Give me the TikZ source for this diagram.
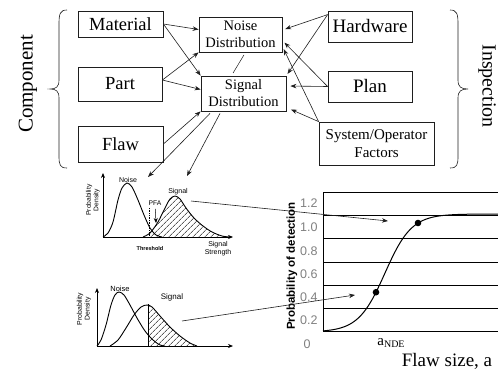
\documentclass[tikz,border=0pt]{standalone}
\usepackage{fontspec}
\setmainfont{Liberation Serif}
\setsansfont{Liberation Sans}
\usetikzlibrary{arrows.meta, positioning, patterns.meta, calc}
\definecolor{ink}{HTML}{1E1E1E}
\definecolor{tickgray}{HTML}{808080}

\tikzset{
  box/.style={draw=ink, line width=0.8pt, align=center, inner sep=0pt},
  link/.style={-{Stealth[length=6pt,width=4.5pt]}, draw=ink, line width=0.6pt},
  axis/.style={-{Stealth[length=5pt,width=4pt]}, line width=0.7pt},
  curve/.style={line width=0.9pt},
  hatch/.style={pattern={Lines[angle=45, distance=4pt, line width=0.5pt]}},
}
\newcommand{\fs}[2]{\fontsize{#1}{#2}\selectfont}

\begin{document}
\begin{tikzpicture}[x=1pt, y=-1pt]
    \useasboundingbox (0,0) rectangle (498,369);

    % component side
    \node[box, minimum width=85pt, minimum height=26pt, font=\fs{18.5}{20}] (material) at (120.5,24) {Material};
    \node[box, minimum width=84pt, minimum height=34pt, font=\fs{18.5}{20}] (part) at (120,84) {Part};
    \node[box, minimum width=85pt, minimum height=36pt, font=\fs{18.5}{20}] (flaw) at (120.5,144) {Flaw};
    \node[rotate=90, font=\fs{21}{22}] (component) at (28,84) {Component};
    \draw[ink, line width=0.6pt] (67,10) .. controls (60,10) and (59,14) .. (59,24) -- (59,80)
        .. controls (59,87) and (56,89) .. (50,89) .. controls (56,89) and (59,91) .. (59,98)
        -- (59,156) .. controls (59,165) and (60,168) .. (67,168);

    % distributions
    \node[box, minimum width=83pt, minimum height=35pt, font=\fs{14.5}{17}] (noise) at (240.5,34.5) {Noise\\Distribution};
    \node[box, minimum width=85pt, minimum height=35pt, font=\fs{14.5}{17}] (signal) at (243.5,93.5) {Signal\\Distribution};

    % inspection side
    \node[box, minimum width=84pt, minimum height=31pt, font=\fs{19}{20}] (hardware) at (370,26.5) {Hardware};
    \node[box, minimum width=84pt, minimum height=31pt, font=\fs{19}{20}] (plan) at (370,86.5) {Plan};
    \node[box, minimum width=115pt, minimum height=43pt, font=\fs{15}{18}] (system) at (376.5,143.5) {System/Operator\\Factors};
    \node[rotate=-90, font=\fs{20}{22}] (inspection) at (487,86) {Inspection};
    \draw[ink, line width=0.6pt] (450,10) .. controls (457,10) and (458,14) .. (458,24) -- (458,80)
        .. controls (458,87) and (461,89) .. (468,89) .. controls (461,89) and (458,91) .. (458,98)
        -- (458,156) .. controls (458,165) and (457,168) .. (450,168);

    % influences
    \draw[link] (material.east) -- ([yshift=5pt]noise.west);
    \draw[link] (material.east) -- (signal.north west);
    \draw[link] ([yshift=4pt]part.east) -- (noise.south west);
    \draw[link] ([yshift=4pt]part.east) -- ([yshift=4pt]signal.west);
    \draw[link] (flaw.east) -- (signal.south west);
    \draw[ink, line width=0.5pt, shorten <=3pt, shorten >=3pt] ([xshift=5pt]noise.south) -- ([xshift=-12pt]signal.north);
    \draw[link, shorten >=3pt] ([yshift=-4pt]hardware.north west) -- ([yshift=4.5pt]noise.east);
    \draw[link, shorten >=2pt] ([yshift=-4pt]hardware.north west) -- (signal.north east);
    \draw[link, shorten >=3pt] (plan.west) -- ([yshift=-6pt]noise.east);
    \draw[link, shorten >=4pt] (plan.west) -- ([yshift=7.5pt]signal.east);
    \draw[link, shorten >=3pt] (system.north west) -- ([yshift=-12pt]noise.east);
    \draw[link, shorten >=5pt] (system.north west) -- ([yshift=-14pt]signal.east);

    % upper pdf sketch
    \coordinate (topnoise) at (148,177);
    \coordinate (topsignal) at (187,176);
    \draw[link] ([xshift=-33.5pt,yshift=-2pt]signal.south) -- (topnoise);
    \draw[link] ([xshift=-23.5pt,yshift=-2pt]signal.south) -- (topsignal);
    \begin{scope}
      \clip (149,180) rectangle (235,237);
      \fill[hatch] plot[smooth] coordinates {(143,237) (150,233) (158,222) (165,208) (170,199) (175,196) (180,199) (186,208) (194,218) (203,226) (212,232) (222,236) (230,237)} -- cycle;
    \end{scope}
    \draw[curve] plot[smooth] coordinates {(103,237) (108,233) (113,222) (118,200) (122,188) (127,183) (132,187) (138,200) (144,215) (150,228) (156,235) (162,237)};
    \draw[curve] plot[smooth] coordinates {(143,237) (150,233) (158,222) (165,208) (170,199) (175,196) (180,199) (186,208) (194,218) (203,226) (212,232) (222,236) (230,237)};
    \draw[densely dotted, line width=0.7pt] (149,208) -- (149,237);
    \draw[axis] (103,237) -- (103,173);
    \draw[axis] (103,237) -- (233,237);
    \node[font=\sffamily\fs{7}{7}] (tnoise) at (128,180) {Noise};
    \node[font=\sffamily\fs{7}{7}] (tsignal) at (178,192) {Signal};
    \node[font=\sffamily\fs{6.7}{7}] (pfa) at (155,203) {PFA};
    \coordinate (pfatip) at (156,223);
    \draw[axis, line width=0.5pt] (pfa) -- (pfatip);
    \node[font=\sffamily\bfseries\fs{5.5}{6}] (threshold) at (150,249) {Threshold};
    \node[font=\sffamily\fs{7}{8}, align=center] (strength) at (218,249) {Signal\\Strength};
    \node[rotate=90, font=\sffamily\fs{6.7}{7.5}, align=center] (tdensity) at (93,200) {Probability\\Density};

    % lower pdf sketch
    \begin{scope}
      \clip (148,280) rectangle (235,346);
      \fill[hatch] plot[smooth] coordinates {(110,346) (118,340) (126,328) (134,315) (141,307) (147,305) (152,307) (160,316) (170,327) (180,336) (190,343) (197,346)} -- cycle;
    \end{scope}
    \draw[curve] plot[smooth] coordinates {(97,346) (101,340) (106,325) (111,305) (115,295) (119,292) (124,295) (130,305) (137,318) (145,331) (153,340) (160,345) (165,346)};
    \draw[curve] plot[smooth] coordinates {(110,346) (118,340) (126,328) (134,315) (141,307) (147,305) (152,307) (160,316) (170,327) (180,336) (190,343) (197,346)};
    \draw[line width=0.5pt] (148,304) -- (148,346);
    \draw[axis] (97,346) -- (97,288);
    \draw[axis] (97,346) -- (233,346);
    \node[font=\sffamily\fs{7.5}{8}] (bnoise) at (120,289) {Noise};
    \node[font=\sffamily\fs{8}{8}] (bsignal) at (172,297) {Signal};
    \node[rotate=90, font=\sffamily\fs{6.9}{7.8}, align=center] (bdensity) at (84,309) {Probability\\Density};

    % POD curve
    \draw[line width=0.8pt] (323,192) -- (498,192);
    \draw[line width=0.8pt] (323,192) -- (323,331);
    \foreach \gy in {215,238,262,285,308,331}
      \draw[line width=0.8pt] (323,\gy) -- (498,\gy);
    \foreach \lab/\ly in {1.2/203, 1.0/227, 0.8/251, 0.6/274, 0.4/297, 0.2/320}
      \node[anchor=east, text=tickgray, font=\sffamily\fs{12.5}{13}] at (321,\ly) {\lab};
    \node[text=tickgray, font=\sffamily\fs{12.5}{13}] (zero) at (307,344) {0};
    \draw[line width=1pt] plot[domain=323:498, samples=90] (\x, {332-118/(1+exp(-(\x-385)/13.3))});
    \fill (376,292.2) circle (3.3pt);
    \fill (418,223) circle (3.3pt);
    \node[rotate=90, font=\sffamily\bfseries\fs{11.5}{12}] (podlabel) at (292,266) {Probability of detection};
    \node[font=\fs{15}{16}] (ande) at (391,343) {a\raisebox{-0.35ex}{\fs{10}{10}NDE}};
    \node[anchor=base, font=\fs{19}{20}] (flawsize) at (447,366) {Flaw size, a};

    % sketches to POD
    \coordinate (tstart) at (191,201);
    \coordinate (podhigh) at (388,221);
    \coordinate (bstart) at (182,321);
    \coordinate (podlow) at (355,295);
    \draw[link] (tstart) -- (podhigh);
    \draw[link] (bstart) -- (podlow);
  \end{tikzpicture}
\end{document}
